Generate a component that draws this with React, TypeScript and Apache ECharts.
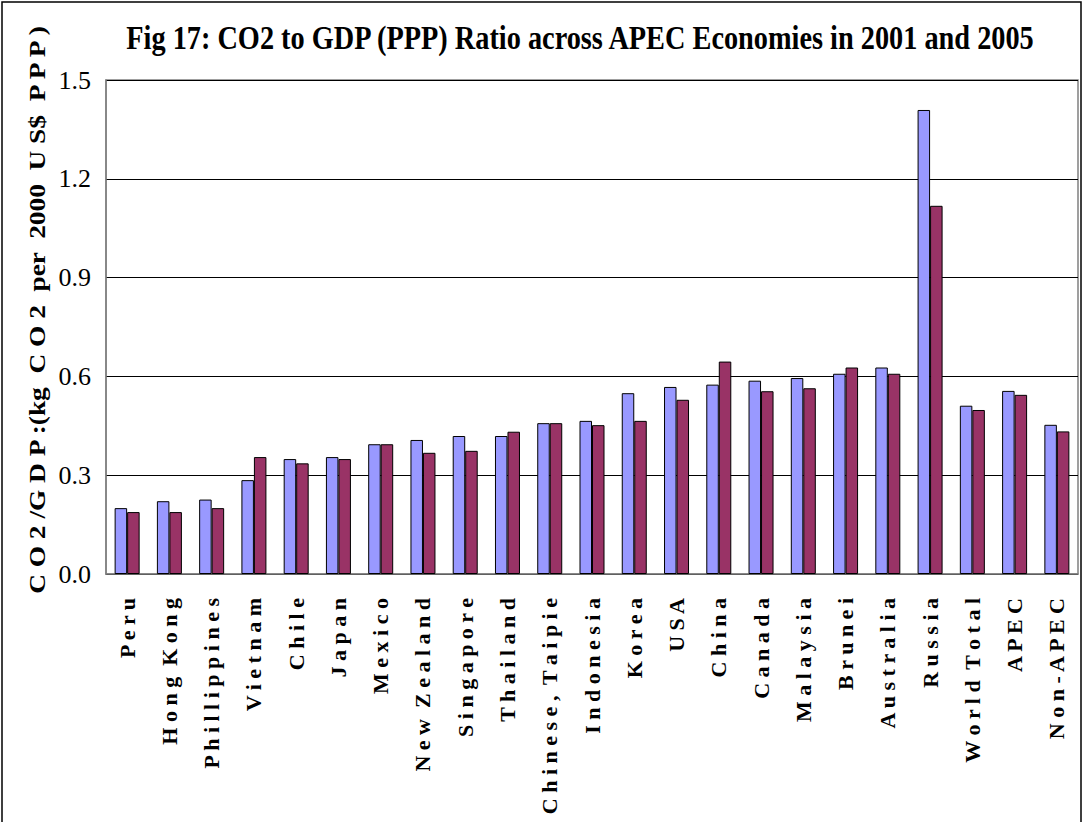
import React, { useEffect, useRef } from "react";
import * as echarts from "echarts";

const categories = [
  "Peru", "Hong Kong", "Phillippines", "Vietnam", "Chile", "Japan", "Mexico",
  "New Zealand", "Singapore", "Thailand", "Chinese, Taipie", "Indonesia", "Korea",
  "USA", "China", "Canada", "Malaysia", "Brunei", "Australia", "Russia",
  "World Total", "APEC", "Non-APEC",
];

const values2001 = [
  0.200, 0.221, 0.226, 0.285, 0.349, 0.355, 0.394, 0.407, 0.419, 0.419, 0.458, 0.465,
  0.549, 0.568, 0.575, 0.587, 0.595, 0.608, 0.627, 1.409, 0.511, 0.556, 0.453,
];

const values2005 = [
  0.188, 0.188, 0.200, 0.355, 0.336, 0.349, 0.394, 0.368, 0.374, 0.432, 0.458, 0.452,
  0.465, 0.529, 0.645, 0.555, 0.564, 0.627, 0.608, 1.118, 0.498, 0.544, 0.433,
];

const yTicks = [0, 0.3, 0.6, 0.9, 1.2, 1.5];

const titleText = "Fig 17: CO2 to GDP (PPP) Ratio across APEC Economies in 2001 and 2005";
const yAxisTitle = "C O 2 /G D P :(kg  C O 2  per  2000  U S$  P P P )";

const spaced = (s: string) => s.split("").join(" ").replace(/   /g, "  ");

export default function App() {
  const ref = useRef<HTMLDivElement>(null);
  useEffect(() => {
    if (!ref.current) return;
    const chart = echarts.init(ref.current, null, { renderer: "svg" });
    const serif = "'Liberation Serif', 'Times New Roman', serif";
    chart.setOption({
      animation: false,
      backgroundColor: "#ffffff",
      grid: {
        left: 106,
        top: 80,
        right: 6,
        bottom: 248,
        show: true,
        borderColor: "#808080",
        borderWidth: 1.5,
        containLabel: false,
      },
      xAxis: {
        type: "category",
        data: categories,
        axisLine: { show: true, lineStyle: { color: "#808080", width: 1.5 } },
        axisTick: { show: false },
        axisLabel: {
          rotate: 90,
          interval: 0,
          margin: 24,
          fontFamily: serif,
          fontWeight: "bold",
          fontSize: 22,
          color: "#000",
          formatter: (v: string) => spaced(v),
        },
      },
      yAxis: {
        type: "value",
        min: 0,
        max: 1.5,
        interval: 0.3,
        axisLine: { show: true, lineStyle: { color: "#808080", width: 1.5 } },
        axisTick: { show: false },
        splitLine: { show: true, lineStyle: { color: "#000", width: 1 } },
        axisLabel: {
          margin: 15,
          fontFamily: serif,
          fontSize: 26,
          color: "#000",
          formatter: (v: number) => (yTicks.includes(Math.round(v * 10) / 10) ? v.toFixed(1) : ""),
        },
      },
      series: [
        {
          name: "2001",
          type: "bar",
          data: values2001,
          barWidth: 12.5,
          barGap: "0%",
          itemStyle: { color: "#9999FF", borderColor: "#000", borderWidth: 1 },
        },
        {
          name: "2005",
          type: "bar",
          data: values2005,
          barWidth: 12.5,
          barGap: "0%",
          itemStyle: { color: "#993366", borderColor: "#000", borderWidth: 1 },
        },
      ],
      graphic: [
        {
          type: "rect",
          shape: { x: 2, y: 2, width: 1079, height: 830 },
          style: { fill: "none", stroke: "#000", lineWidth: 1.5 },
          silent: true,
        },
        {
          type: "text",
          x: 580,
          y: 38,
          scaleX: 0.858,
          style: {
            text: titleText,
            font: `bold 33px ${serif}`,
            fill: "#000",
            textAlign: "center",
            textVerticalAlign: "middle",
          },
        },
        {
          type: "text",
          x: 37,
          y: 310,
          rotation: Math.PI / 2,
          scaleX: 1.14,
          style: {
            text: yAxisTitle,
            font: `bold 24px ${serif}`,
            fill: "#000",
            textAlign: "center",
            textVerticalAlign: "middle",
          },
        },
      ],
    });
    return () => chart.dispose();
  }, []);
  return (
    <div
      ref={ref}
      style={{ position: "fixed", left: 0, top: 0, width: 1084, height: 822 }}
    />
  );
}
